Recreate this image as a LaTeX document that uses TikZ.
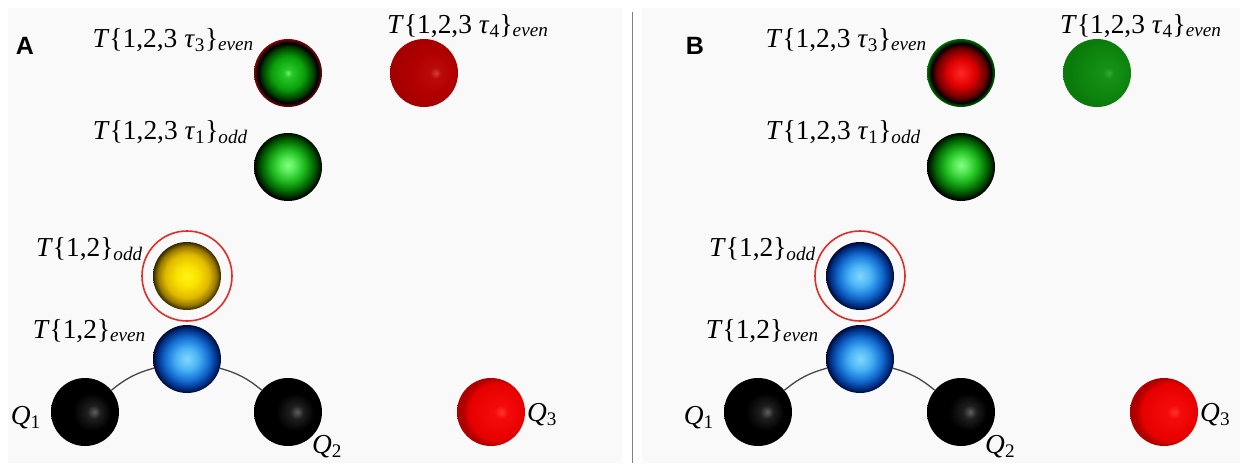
\documentclass[tikz,border=0pt]{standalone}
\usepackage{fontspec}
\setmainfont{Liberation Serif}
\newfontfamily\panelfont{Liberation Sans}
\usetikzlibrary{positioning}

% ball colours
\definecolor{ringred}{RGB}{225,45,40}
\definecolor{bondgray}{RGB}{70,70,70}
\definecolor{paper}{RGB}{249,249,249}

\pgfdeclareradialshading{greenglow}{\pgfpoint{0bp}{1.5bp}}{%
  color(0bp)=(rgb,255:red,130;green,255;blue,130);
  color(5bp)=(rgb,255:red,90;green,235;blue,90);
  color(12bp)=(rgb,255:red,30;green,185;blue,30);
  color(19.5bp)=(rgb,255:red,0;green,95;blue,0);
  color(25bp)=(black); color(50bp)=(black)}
\pgfdeclareradialshading{greenrim}{\pgfpoint{0bp}{0bp}}{%
  color(0bp)=(rgb,255:red,110;green,240;blue,110);
  color(3bp)=(rgb,255:red,40;green,200;blue,40);
  color(12bp)=(rgb,255:red,10;green,160;blue,10);
  color(18.5bp)=(rgb,255:red,0;green,70;blue,0);
  color(22bp)=(black);
  color(25bp)=(rgb,255:red,120;green,10;blue,10);
  color(50bp)=(rgb,255:red,120;green,10;blue,10)}
\pgfdeclareradialshading{redrim}{\pgfpoint{0bp}{0bp}}{%
  color(0bp)=(rgb,255:red,255;green,40;blue,40);
  color(10bp)=(rgb,255:red,225;green,0;blue,0);
  color(18bp)=(rgb,255:red,110;green,0;blue,0);
  color(22bp)=(black);
  color(25bp)=(rgb,255:red,0;green,110;blue,0);
  color(50bp)=(rgb,255:red,0;green,110;blue,0)}
\pgfdeclareradialshading{redflat}{\pgfpoint{9bp}{0bp}}{%
  color(0bp)=(rgb,255:red,215;green,60;blue,60);
  color(4bp)=(rgb,255:red,185;green,10;blue,10);
  color(15bp)=(rgb,255:red,178;green,0;blue,0);
  color(25bp)=(rgb,255:red,165;green,0;blue,0);
  color(50bp)=(rgb,255:red,165;green,0;blue,0)}
\pgfdeclareradialshading{greenflat}{\pgfpoint{9bp}{0bp}}{%
  color(0bp)=(rgb,255:red,45;green,175;blue,45);
  color(4bp)=(rgb,255:red,22;green,145;blue,22);
  color(15bp)=(rgb,255:red,15;green,135;blue,15);
  color(25bp)=(rgb,255:red,10;green,122;blue,10);
  color(50bp)=(rgb,255:red,10;green,122;blue,10)}
\pgfdeclareradialshading{yellowglow}{\pgfpoint{0bp}{0bp}}{%
  color(0bp)=(rgb,255:red,255;green,245;blue,20);
  color(8bp)=(rgb,255:red,250;green,225;blue,0);
  color(16bp)=(rgb,255:red,225;green,185;blue,0);
  color(21.5bp)=(rgb,255:red,150;green,120;blue,0);
  color(25bp)=(rgb,255:red,50;green,40;blue,0);
  color(50bp)=(rgb,255:red,50;green,40;blue,0)}
\pgfdeclareradialshading{blueglow}{\pgfpoint{0bp}{0bp}}{%
  color(0bp)=(rgb,255:red,130;green,215;blue,255);
  color(8bp)=(rgb,255:red,75;green,180;blue,245);
  color(16bp)=(rgb,255:red,20;green,110;blue,210);
  color(22bp)=(rgb,255:red,0;green,45;blue,130);
  color(25bp)=(rgb,255:red,0;green,10;blue,45);
  color(50bp)=(rgb,255:red,0;green,10;blue,45)}
\pgfdeclareradialshading{blackglow}{\pgfpoint{7bp}{0bp}}{%
  color(0bp)=(rgb,255:red,95;green,95;blue,95);
  color(5bp)=(rgb,255:red,30;green,30;blue,30);
  color(14bp)=(black);
  color(50bp)=(black)}
\pgfdeclareradialshading{redglow}{\pgfpoint{8bp}{0bp}}{%
  color(0bp)=(rgb,255:red,255;green,50;blue,50);
  color(5bp)=(rgb,255:red,245;green,10;blue,10);
  color(21bp)=(rgb,255:red,230;green,0;blue,0);
  color(25bp)=(rgb,255:red,175;green,0;blue,0);
  color(50bp)=(rgb,255:red,175;green,0;blue,0)}

\newcommand\lsub[1]{\textsubscript{\textit{#1}}}

\tikzset{
    ball/.style    = {circle, minimum size=68pt, inner sep=0pt},
    green ball/.style  = {ball, shading=greenglow},
    rim ball/.style    = {ball, shading=greenrim},
    redrim ball/.style = {ball, shading=redrim},
    dark ball/.style   = {ball, shading=redflat},
    flat ball/.style   = {ball, shading=greenflat},
    yellow ball/.style = {ball, shading=yellowglow},
    blue ball/.style   = {ball, shading=blueglow},
    black ball/.style  = {ball, shading=blackglow},
    red ball/.style    = {ball, shading=redglow},
    lbl/.style     = {inner sep=0pt, font=\fontsize{27.4}{32}\selectfont},
    panel/.style   = {inner sep=0pt, font=\panelfont\bfseries\fontsize{25}{30}\selectfont},
    bond/.style    = {draw=bondgray, line width=1.3pt},
    ring/.style    = {draw=ringred, line width=1.6pt}
}

\begin{document}
\begin{tikzpicture}[x=1pt, y=-1pt]
\useasboundingbox (0,0) rectangle (1247,463);
\fill[white] (0,0) rectangle (1247,463);
\fill[paper] (8,8) rectangle (622,463);
\fill[paper] (642,8) rectangle (1240,463);

% ================= divider =================
\draw[gray, line width=0.8pt] (632,12) -- (632,463);

% ================= Panel A =================
\node[panel] (pA) at (25,46) {A};

\node[rim ball]    (t3A)  at (288,73)  {};
\node[dark ball]   (t4A)  at (424,73)  {};
\node[green ball]  (t1A)  at (288,167) {};
\node[yellow ball] (t12oA) at (187,276) {};
\draw[ring] (t12oA) circle (45);
\node[blue ball]   (t12eA) at (187,359) {};
\node[black ball]  (q1A)  at (85,412)  {};
\node[black ball]  (q2A)  at (288,412) {};
\node[red ball]    (q3A)  at (491,412) {};

\draw[bond] (q1A) to[bend left=12] (t12eA);
\draw[bond] (t12eA) to[bend left=12] (q2A);

\node[lbl, anchor=base east] (lt3A)  at (254,47)  {\textit{T}\{1,2,3 \textit{τ}\textsubscript{3}\}\lsub{even}};
\node[lbl, anchor=base west] (lt4A)  at (387,33)  {\textit{T}\{1,2,3 \textit{τ}\textsubscript{4}\}\lsub{even}};
\node[lbl, anchor=base east] (lt1A)  at (248,139) {\textit{T}\{1,2,3 \textit{τ}\textsubscript{1}\}\lsub{odd}};
\node[lbl, anchor=base east] (lodA)  at (143,256) {\textit{T}\{1,2\}\lsub{odd}};
\node[lbl, anchor=base east] (levA)  at (146,338) {\textit{T}\{1,2\}\lsub{even}};
\node[lbl, anchor=base east] (lq1A)  at (41,424)  {\textit{Q}\textsubscript{1}};
\node[lbl, anchor=base west] (lq2A)  at (312,453) {\textit{Q}\textsubscript{2}};
\node[lbl, anchor=base west] (lq3A)  at (527,421) {\textit{Q}\textsubscript{3}};

% ================= Panel B =================
\begin{scope}[xshift=673pt]
\node[panel] (pB) at (22,46) {B};

\node[redrim ball] (t3B)  at (288,73)  {};
\node[flat ball]   (t4B)  at (424,73)  {};
\node[green ball]  (t1B)  at (288,167) {};
\node[blue ball]   (t12oB) at (187,276) {};
\draw[ring] (t12oB) circle (45);
\node[blue ball]   (t12eB) at (187,359) {};
\node[black ball]  (q1B)  at (85,412)  {};
\node[black ball]  (q2B)  at (288,412) {};
\node[red ball]    (q3B)  at (491,412) {};

\draw[bond] (q1B) to[bend left=12] (t12eB);
\draw[bond] (t12eB) to[bend left=12] (q2B);

\node[lbl, anchor=base east] (lt3B)  at (254,47)  {\textit{T}\{1,2,3 \textit{τ}\textsubscript{3}\}\lsub{even}};
\node[lbl, anchor=base west] (lt4B)  at (387,33)  {\textit{T}\{1,2,3 \textit{τ}\textsubscript{4}\}\lsub{even}};
\node[lbl, anchor=base east] (lt1B)  at (248,139) {\textit{T}\{1,2,3 \textit{τ}\textsubscript{1}\}\lsub{odd}};
\node[lbl, anchor=base east] (lodB)  at (143,256) {\textit{T}\{1,2\}\lsub{odd}};
\node[lbl, anchor=base east] (levB)  at (146,338) {\textit{T}\{1,2\}\lsub{even}};
\node[lbl, anchor=base east] (lq1B)  at (41,424)  {\textit{Q}\textsubscript{1}};
\node[lbl, anchor=base west] (lq2B)  at (312,453) {\textit{Q}\textsubscript{2}};
\node[lbl, anchor=base west] (lq3B)  at (527,421) {\textit{Q}\textsubscript{3}};
\end{scope}

\end{tikzpicture}
\end{document}
